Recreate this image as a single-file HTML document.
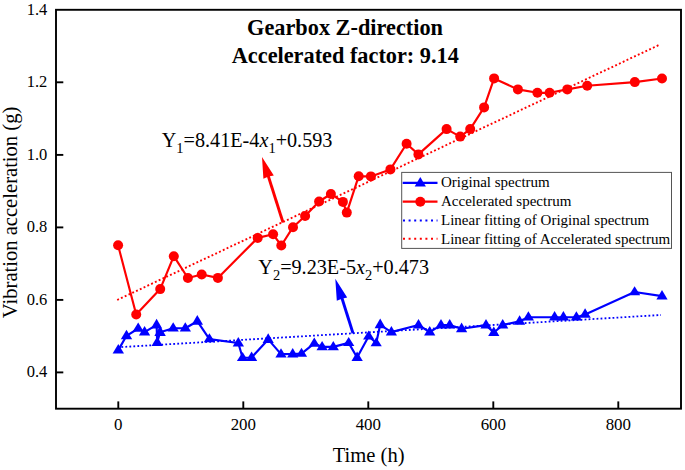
<!DOCTYPE html>
<html><head><meta charset="utf-8"><style>
html,body{margin:0;padding:0;background:#fff;}
body{width:685px;height:470px;overflow:hidden;font-family:"Liberation Serif",serif;}
svg{display:block;}
</style></head><body>
<svg width="685" height="470" viewBox="0 0 685 470">
<line x1="117.2" y1="300.0" x2="660" y2="44.5" stroke="#f00" stroke-width="1.9" stroke-dasharray="1.9 2.27"/>
<line x1="117.4" y1="347.3" x2="661" y2="315" stroke="#00f" stroke-width="1.8" stroke-dasharray="1.8 2.2"/>
<polyline fill="none" stroke="#f00" stroke-width="2.15" stroke-linejoin="round" points="118.1,245.3 136.2,314.5 160.2,289.1 173.8,256.2 187.9,278.0 201.7,274.5 217.9,277.9 257.7,237.9 273.1,234.3 281.3,245.5 293.0,227.2 305.1,216.0 319.1,201.5 330.9,194.0 342.9,201.9 346.8,212.6 358.7,176.2 370.9,176.4 390.4,169.4 406.6,143.8 418.4,154.4 446.6,129.1 460.2,136.6 470.2,129.1 484.1,107.4 494.1,78.4 517.9,89.4 537.4,92.8 549.6,92.8 567.3,89.4 587.2,85.7 634.8,82.1 662.0,78.5"/>
<polyline fill="none" stroke="#00f" stroke-width="2.15" stroke-linejoin="round" points="118.3,350.1 126.5,335.8 138.2,328.5 144.6,332.1 156.6,324.9 157.2,342.5 160.1,332.2 173.2,328.2 185.3,328.2 197.3,321.2 209.4,339.1 238.3,343.0 242.6,357.7 251.6,357.5 268.2,339.4 281.0,354.1 292.7,354.0 301.5,353.6 314.3,343.4 322.1,346.9 333.3,346.9 348.7,342.9 357.1,357.5 368.7,336.3 376.2,343.0 380.2,324.8 391.4,332.1 418.5,325.0 429.7,332.2 441.0,325.1 449.7,325.1 461.6,328.7 486.0,325.1 493.8,332.5 502.7,325.1 519.6,321.3 528.4,317.2 554.6,317.2 563.4,317.2 576.4,317.2 585.1,314.4 634.6,292.0 662.0,296.1"/>
<g fill="#f00"><circle cx="118.1" cy="245.3" r="5"/><circle cx="136.2" cy="314.5" r="5"/><circle cx="160.2" cy="289.1" r="5"/><circle cx="173.8" cy="256.2" r="5"/><circle cx="187.9" cy="278.0" r="5"/><circle cx="201.7" cy="274.5" r="5"/><circle cx="217.9" cy="277.9" r="5"/><circle cx="257.7" cy="237.9" r="5"/><circle cx="273.1" cy="234.3" r="5"/><circle cx="281.3" cy="245.5" r="5"/><circle cx="293.0" cy="227.2" r="5"/><circle cx="305.1" cy="216.0" r="5"/><circle cx="319.1" cy="201.5" r="5"/><circle cx="330.9" cy="194.0" r="5"/><circle cx="342.9" cy="201.9" r="5"/><circle cx="346.8" cy="212.6" r="5"/><circle cx="358.7" cy="176.2" r="5"/><circle cx="370.9" cy="176.4" r="5"/><circle cx="390.4" cy="169.4" r="5"/><circle cx="406.6" cy="143.8" r="5"/><circle cx="418.4" cy="154.4" r="5"/><circle cx="446.6" cy="129.1" r="5"/><circle cx="460.2" cy="136.6" r="5"/><circle cx="470.2" cy="129.1" r="5"/><circle cx="484.1" cy="107.4" r="5"/><circle cx="494.1" cy="78.4" r="5"/><circle cx="517.9" cy="89.4" r="5"/><circle cx="537.4" cy="92.8" r="5"/><circle cx="549.6" cy="92.8" r="5"/><circle cx="567.3" cy="89.4" r="5"/><circle cx="587.2" cy="85.7" r="5"/><circle cx="634.8" cy="82.1" r="5"/><circle cx="662.0" cy="78.5" r="5"/></g>
<g fill="#00f"><path d="M118.3 344.0L124.0 353.6L112.6 353.6Z"/><path d="M126.5 329.7L132.2 339.3L120.8 339.3Z"/><path d="M138.2 322.6L143.8 331.8L132.5 331.8Z"/><path d="M144.6 326.0L150.2 335.5L138.9 335.5Z"/><path d="M156.6 318.8L162.2 328.4L150.9 328.4Z"/><path d="M157.2 336.4L162.8 346.0L151.5 346.0Z"/><path d="M160.1 325.7L165.8 335.9L154.4 335.9Z"/><path d="M173.2 322.2L178.8 331.6L167.5 331.6Z"/><path d="M185.3 322.2L191.0 331.6L179.7 331.6Z"/><path d="M197.3 315.1L203.0 324.7L191.7 324.7Z"/><path d="M209.4 333.3L215.1 342.3L203.8 342.3Z"/><path d="M238.3 337.0L244.0 346.4L232.7 346.4Z"/><path d="M242.6 351.9L248.2 361.0L236.9 361.0Z"/><path d="M251.6 351.4L257.2 361.0L245.9 361.0Z"/><path d="M268.2 333.3L273.8 342.9L262.6 342.9Z"/><path d="M281.0 348.2L286.6 357.4L275.4 357.4Z"/><path d="M292.7 348.0L298.3 357.4L287.1 357.4Z"/><path d="M301.5 347.8L307.1 356.8L295.9 356.8Z"/><path d="M314.3 337.4L319.9 346.7L308.7 346.7Z"/><path d="M322.1 340.9L327.8 350.2L316.5 350.2Z"/><path d="M333.3 340.9L338.9 350.2L327.7 350.2Z"/><path d="M348.7 337.1L354.3 346.1L343.1 346.1Z"/><path d="M357.1 351.4L362.8 361.0L351.5 361.0Z"/><path d="M368.7 330.5L374.3 339.5L363.1 339.5Z"/><path d="M376.2 337.2L381.8 346.2L370.6 346.2Z"/><path d="M380.2 318.6L385.8 328.3L374.6 328.3Z"/><path d="M391.4 326.0L397.0 335.5L385.8 335.5Z"/><path d="M418.5 318.9L424.1 328.5L412.9 328.5Z"/><path d="M429.7 326.1L435.3 335.6L424.1 335.6Z"/><path d="M441.0 319.0L446.6 328.5L435.4 328.5Z"/><path d="M449.7 319.0L455.3 328.5L444.1 328.5Z"/><path d="M461.6 322.4L467.2 332.2L456.0 332.2Z"/><path d="M486.0 319.0L491.6 328.5L480.4 328.5Z"/><path d="M493.8 326.4L499.4 336.0L488.2 336.0Z"/><path d="M502.7 319.0L508.3 328.5L497.1 328.5Z"/><path d="M519.6 315.2L525.2 324.8L514.0 324.8Z"/><path d="M528.4 311.3L534.0 320.5L522.8 320.5Z"/><path d="M554.6 311.1L560.2 320.6L549.0 320.6Z"/><path d="M563.4 311.1L569.0 320.6L557.8 320.6Z"/><path d="M576.4 311.3L582.0 320.5L570.8 320.5Z"/><path d="M585.1 308.3L590.8 317.8L579.5 317.8Z"/><path d="M634.6 286.3L640.2 295.2L629.0 295.2Z"/><path d="M662.0 290.1L667.6 299.4L656.4 299.4Z"/></g>
<line x1="283" y1="222.5" x2="267" y2="172" stroke="#f00" stroke-width="2.9"/>
<path d="M262.0 157.0L273.8 175.6L268.5 176.6L263.4 178.7Z" fill="#f00"/>
<line x1="353" y1="333.3" x2="340" y2="292" stroke="#00f" stroke-width="2.9"/>
<path d="M335.3 278.8L347.2 297.4L341.8 298.8L336.8 300.7Z" fill="#00f"/>
<rect x="56" y="9.8" width="625" height="398.9" fill="none" stroke="#000" stroke-width="1.9"/>
<g stroke="#000" stroke-width="1.9"><line x1="118.3" y1="408.7" x2="118.3" y2="401.4"/><line x1="243.3" y1="408.7" x2="243.3" y2="401.4"/><line x1="368.3" y1="408.7" x2="368.3" y2="401.4"/><line x1="493.3" y1="408.7" x2="493.3" y2="401.4"/><line x1="618.3" y1="408.7" x2="618.3" y2="401.4"/><line x1="56" y1="372.4" x2="63.3" y2="372.4"/><line x1="56" y1="299.9" x2="63.3" y2="299.9"/><line x1="56" y1="227.4" x2="63.3" y2="227.4"/><line x1="56" y1="154.9" x2="63.3" y2="154.9"/><line x1="56" y1="82.3" x2="63.3" y2="82.3"/></g>
<g font-family="Liberation Serif" font-size="16.5" fill="#000"><text transform="translate(118.3 430.2) scale(1 1.04)" text-anchor="middle" font-size="16.9">0</text><text transform="translate(243.3 430.2) scale(1 1.04)" text-anchor="middle" font-size="16.9">200</text><text transform="translate(368.3 430.2) scale(1 1.04)" text-anchor="middle" font-size="16.9">400</text><text transform="translate(493.3 430.2) scale(1 1.04)" text-anchor="middle" font-size="16.9">600</text><text transform="translate(618.3 430.2) scale(1 1.04)" text-anchor="middle" font-size="16.9">800</text><text transform="translate(47.3 377.4) scale(1 1.05)" text-anchor="end">0.4</text><text transform="translate(47.3 304.9) scale(1 1.05)" text-anchor="end">0.6</text><text transform="translate(47.3 232.4) scale(1 1.05)" text-anchor="end">0.8</text><text transform="translate(47.3 159.9) scale(1 1.05)" text-anchor="end">1.0</text><text transform="translate(47.3 87.3) scale(1 1.05)" text-anchor="end">1.2</text><text transform="translate(47.3 14.8) scale(1 1.05)" text-anchor="end">1.4</text></g>
<text x="368.6" y="462.3" text-anchor="middle" font-family="Liberation Serif" font-size="20.6">Time (h)</text>
<text transform="translate(17.4 212.4) rotate(-90)" text-anchor="middle" font-family="Liberation Serif" font-size="20.6">Vibration acceleration (g)</text>
<g font-family="Liberation Serif" font-weight="bold" font-size="22.3" text-anchor="middle"><text transform="translate(345 34.9) scale(1 1.045)">Gearbox Z-direction</text><text transform="translate(345.3 63.2) scale(1 1.03)">Accelerated factor: 9.14</text></g>
<g font-family="Liberation Serif" font-size="20.2"><text x="161.7" y="146.9">Y<tspan font-size="14.5" dy="5.8">1</tspan><tspan dy="-5.8">=8.41E-4</tspan><tspan font-style="italic">x</tspan><tspan font-size="14.5" dy="5.8">1</tspan><tspan dy="-5.8">+0.593</tspan></text><text x="258.3" y="274">Y<tspan font-size="14.5" dy="5.8">2</tspan><tspan dy="-5.8">=9.23E-5</tspan><tspan font-style="italic">x</tspan><tspan font-size="14.5" dy="5.8">2</tspan><tspan dy="-5.8">+0.473</tspan></text></g>
<rect x="401.7" y="172.4" width="269.8" height="76" fill="#fff" stroke="#555" stroke-width="1"/><line x1="402.7" y1="182.9" x2="437.5" y2="182.9" stroke="#00f" stroke-width="2.3"/><path d="M420.3 176.9L425.90000000000003 186.5L414.7 186.5Z" fill="#00f"/><line x1="402.7" y1="201.7" x2="437.5" y2="201.7" stroke="#f00" stroke-width="2.3"/><circle cx="420.3" cy="201.7" r="5" fill="#f00"/><line x1="403" y1="220.4" x2="437.5" y2="220.4" stroke="#00f" stroke-width="2" stroke-dasharray="2 3.6"/><line x1="403" y1="238.8" x2="437.5" y2="238.8" stroke="#f00" stroke-width="2" stroke-dasharray="2 3.6"/><g font-family="Liberation Serif" font-size="15"><text x="441.0" y="187.4">Original spectrum</text><text x="441.0" y="206.4">Accelerated spectrum</text><text x="441.0" y="225.3">Linear fitting of Original spectrum</text><text x="441.0" y="243.9">Linear fitting of Accelerated spectrum</text></g>
</svg>
</body></html>
